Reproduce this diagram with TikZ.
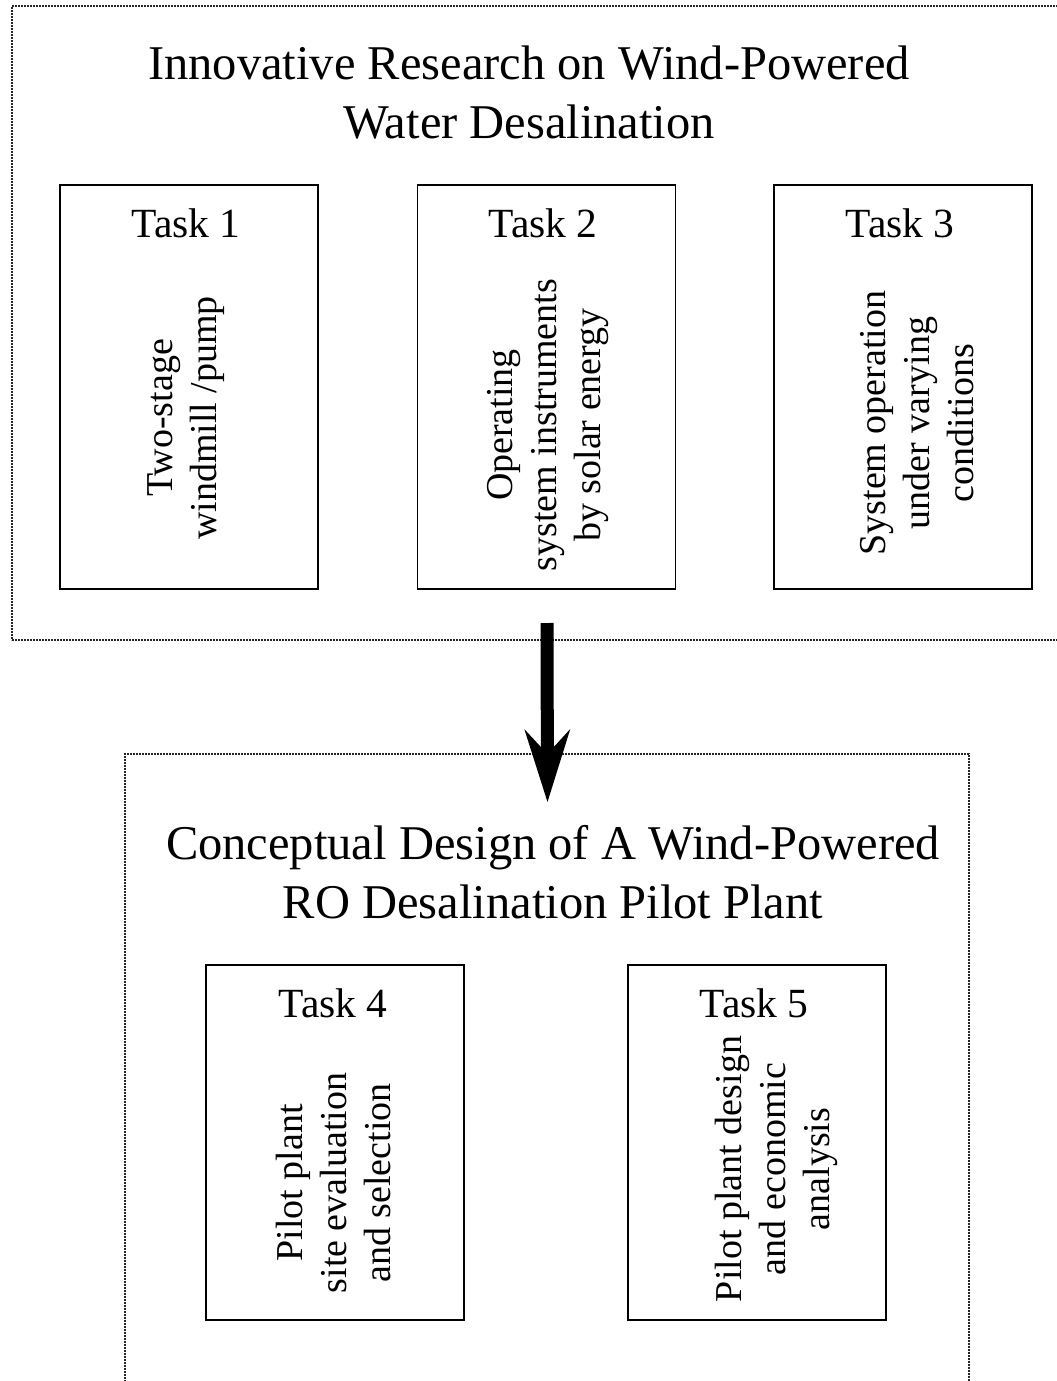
\documentclass[tikz,border=0pt]{standalone}
\usepackage{fontspec}
\setmainfont{Liberation Serif}
\usetikzlibrary{arrows.meta}

\begin{document}
\begin{tikzpicture}[x=1pt,y=-1pt,
  groupbox/.style={draw=black!85, line width=2pt, dash pattern=on 1.8pt off 1.2pt,
                   inner sep=0pt, outer sep=0pt, anchor=north west},
  taskbox/.style={draw=black, line width=1.9pt, minimum width=258pt,
                  inner sep=0pt, outer sep=0pt},
  tasktitle/.style={font=\fontsize{41.5}{50}\selectfont, anchor=base, inner sep=0pt},
  taskdesc/.style={font=\fontsize{38}{44}\selectfont, rotate=90, align=center, inner sep=0pt},
  heading/.style={font=\fontsize{48.5}{59}\selectfont, align=center, inner sep=0pt, anchor=base},
  bigarrow/.style={line width=13pt,
                   -{Stealth[length=73pt,width=46pt,inset=25pt,line width=0pt]}}
]
\useasboundingbox (0,0) rectangle (1057,1381);
\clip (0,0) rectangle (1057,1381);
\fill[white] (0,0) rectangle (1057,1381);

% the two dotted groups
\node[groupbox, minimum width=1058pt, minimum height=634pt] (research) at (12,6) {};
\node[groupbox, minimum width=844pt, minimum height=680pt] (design) at (125,754) {};

% headings (anchored at the baseline of their last line)
\node[heading] (researchtitle) at (529,138)
  {Innovative Research on Wind-Powered\\Water Desalination};
\node[heading] (designtitle) at (553,918)
  {Conceptual Design of A Wind-Powered\\RO Desalination Pilot Plant};

% research tasks
\node[taskbox, minimum height=404pt] (task1) at (189,387) {};
\node[taskbox, minimum height=404pt] (task2) at (546.5,387) {};
\node[taskbox, minimum height=404pt] (task3) at (903,387) {};

\node[tasktitle] (task1title) at (186,237) {Task 1};
\node[tasktitle] (task2title) at (543,237) {Task 2};
\node[tasktitle] (task3title) at (900,237) {Task 3};

\node[taskdesc] (task1text) at (186,418) {Two-stage\\windmill /pump};
\node[taskdesc] (task2text) at (548,425) {Operating\\system instruments\\by solar energy};
\node[taskdesc] (task3text) at (917,423) {System operation\\under varying\\conditions};

% design tasks
\node[taskbox, minimum height=355pt] (task4) at (335,1142.5) {};
\node[taskbox, minimum height=355pt] (task5) at (757,1142.5) {};

\node[tasktitle] (task4title) at (333,1017) {Task 4};
\node[tasktitle] (task5title) at (754,1017) {Task 5};

\node[taskdesc] (task4text) at (333,1183) {Pilot plant\\site evaluation\\and selection};
\node[taskdesc] (task5text) at (776,1169) {Pilot plant design\\and economic\\analysis};

% flow from research to design
\coordinate (arrowstart) at (547,623);
\coordinate (arrowtip) at (547.5,802);
\draw[bigarrow] (arrowstart) -- (arrowtip);
\end{tikzpicture}
\end{document}
